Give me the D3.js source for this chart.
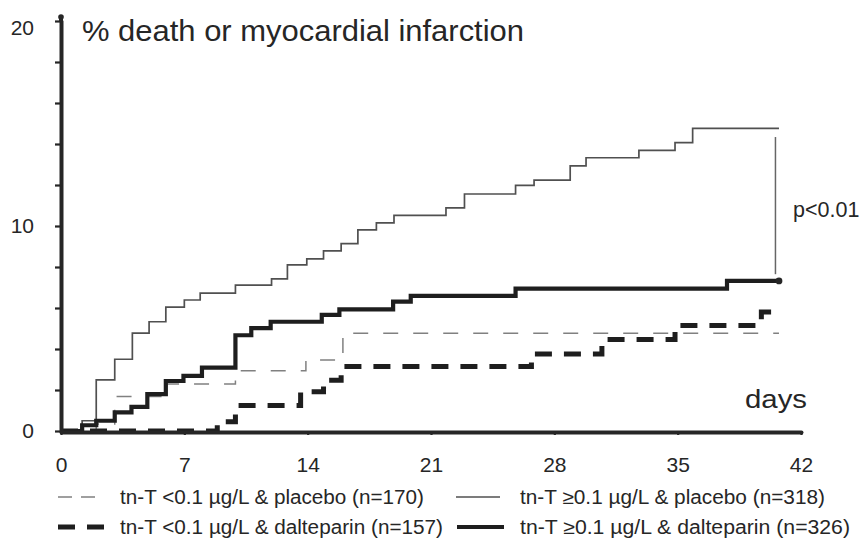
<!DOCTYPE html>
<html>
<head>
<meta charset="utf-8">
<script src="https://cdn.jsdelivr.net/npm/d3@7"></script>
<style>
  html, body { margin: 0; padding: 0; background: #fff; }
  svg { display: block; font-family: "Liberation Sans", Arial, Helvetica, sans-serif; }
</style>
</head>
<body>
<svg id="chart" width="863" height="542"></svg>
<script>
// Cumulative % death or myocardial infarction, step points [day, percent]
const lowTnPlacebo = [[0, 0], [2.0, 0.34], [3.05, 1.68], [6.0, 2.29], [9.9, 2.94], [13.9, 3.46], [16.0, 4.77], [40.75, 4.77]];
const highTnPlacebo = [[0, 0], [1.2, 0.5], [2.0, 2.49], [3.05, 3.5], [4.05, 4.77], [5.0, 5.33], [5.95, 6.04], [7.0, 6.39], [7.9, 6.73],
  [9.9, 7.12], [11.95, 7.42], [12.85, 8.1], [13.95, 8.4], [14.9, 8.79], [15.9, 9.14], [16.85, 9.81], [17.9, 10.15], [18.9, 10.52],
  [21.85, 10.88], [22.9, 11.56], [25.8, 11.98], [26.85, 12.24], [28.9, 12.93], [29.8, 13.33], [32.8, 13.69], [34.85, 14.07],
  [35.85, 14.76], [40.75, 14.76]];
const lowTnDalteparin = [[0, 0], [8.87, 0.45], [9.9, 1.24], [13.6, 1.92], [14.9, 2.48], [15.9, 3.15], [26.7, 3.76], [30.7, 4.46],
  [34.85, 5.15], [39.75, 5.8], [40.75, 5.8]];
const highTnDalteparin = [[0, 0], [1.2, 0.28], [2.0, 0.5], [3.05, 0.91], [4.0, 1.18], [4.9, 1.8], [5.95, 2.44], [6.95, 2.69],
  [8.0, 3.09], [9.9, 4.67], [10.8, 5.02], [11.9, 5.33], [14.8, 5.66], [15.8, 5.93], [18.85, 6.31], [19.85, 6.59], [25.8, 6.95],
  [37.8, 7.32], [40.75, 7.32]];

const xTicks = [0, 7, 14, 21, 28, 35, 42];
const yTicks = [0, 2, 4, 6, 8, 10, 12, 14, 16, 18, 20];
const yLabelled = [0, 10, 20];
const legendLabels = [
  "tn-T <0.1 \u00b5g/L & placebo (n=170)",
  "tn-T \u22650.1 \u00b5g/L & placebo (n=318)",
  "tn-T <0.1 \u00b5g/L & dalteparin (n=157)",
  "tn-T \u22650.1 \u00b5g/L & dalteparin (n=326)"
];

const svg = d3.select("#chart");
const ink = "#262626";

const x = d3.scaleLinear().domain([0, 42]).range([61, 801]);
const y = d3.scaleLinear().domain([0, 20]).range([431, 21]);

// Line styles for the four groups (order matches legendLabels)
const styles = [
  { data: lowTnPlacebo, width: 1.5, color: "#808080", dash: "15 15" },
  { data: highTnPlacebo, width: 1.7, color: "#505050", dash: null },
  { data: lowTnDalteparin, width: 5, color: "#1e1e1e", dash: "17 12" },
  { data: highTnDalteparin, width: 4.2, color: "#1e1e1e", dash: null }
];

const line = d3.line().x(d => x(d[0])).y(d => y(d[1])).curve(d3.curveStepAfter);

styles.forEach(s => {
  svg.append("path")
    .datum(s.data)
    .attr("d", line)
    .attr("fill", "none")
    .attr("stroke", s.color)
    .attr("stroke-width", s.width)
    .attr("stroke-dasharray", s.dash)
    .attr("stroke-linejoin", "miter");
});

// End marker of the dalteparin high-troponin curve
const lastHD = highTnDalteparin[highTnDalteparin.length - 1];
svg.append("circle").attr("cx", x(lastHD[0])).attr("cy", y(lastHD[1])).attr("r", 3.4).attr("fill", ink);

// Bracket comparing the two high-troponin groups
const lastHP = highTnPlacebo[highTnPlacebo.length - 1];
svg.append("line")
  .attr("x1", x(40.55)).attr("x2", x(40.55))
  .attr("y1", y(lastHP[1] - 0.42)).attr("y2", y(lastHD[1] + 0.33))
  .attr("stroke", "#666").attr("stroke-width", 1.5);
svg.append("text")
  .attr("x", 793).attr("y", 217)
  .attr("font-size", 21.5).attr("fill", ink)
  .text("p<0.01");

// Axes
const yAxis = svg.append("g")
  .attr("transform", `translate(${x(0)},0)`)
  .call(d3.axisLeft(y).tickValues(yTicks).tickSize(6).tickSizeOuter(0).tickPadding(21)
    .tickFormat(d => yLabelled.includes(d) ? d : ""));
const xAxis = svg.append("g")
  .attr("transform", `translate(0,${y(0) + 1})`)
  .call(d3.axisBottom(x).tickValues(xTicks).tickSize(3).tickSizeOuter(0).tickPadding(22));

[yAxis, xAxis].forEach(g => {
  g.select(".domain").attr("stroke", ink).attr("stroke-width", 4).attr("stroke-linecap", "round");
  g.selectAll(".tick line").attr("stroke", ink).attr("stroke-width", 2.2);
  g.selectAll(".tick text").attr("fill", ink).attr("font-size", 21)
    .attr("font-family", "'Liberation Sans', Arial, sans-serif");
});
yAxis.selectAll(".tick text").filter(d => d === 20).attr("dy", "0.62em");
// Axis runs slightly past the top tick, ending in a small knob
svg.append("line")
  .attr("x1", x(0)).attr("x2", x(0)).attr("y1", y(20)).attr("y2", y(20) - 4)
  .attr("stroke", ink).attr("stroke-width", 4);
svg.append("circle").attr("cx", x(0)).attr("cy", y(20) - 4).attr("r", 2.8).attr("fill", ink);

// Titles
svg.append("text")
  .attr("x", 82).attr("y", 41)
  .attr("font-size", 29).attr("fill", ink)
  .attr("textLength", 442).attr("lengthAdjust", "spacingAndGlyphs")
  .text("% death or myocardial infarction");
svg.append("text")
  .attr("x", 745).attr("y", 408)
  .attr("font-size", 25).attr("fill", ink)
  .attr("textLength", 62).attr("lengthAdjust", "spacingAndGlyphs")
  .text("days");

// Legend: two columns, two rows
const legendPos = [
  { sx: 58, ex: 104, tx: 120, ty: 497, w: 304 },
  { sx: 456, ex: 500, tx: 520, ty: 497, w: 305 },
  { sx: 58, ex: 104, tx: 120, ty: 527, w: 323 },
  { sx: 457, ex: 504, tx: 520, ty: 527, w: 330 }
];
legendLabels.forEach((label, i) => {
  const p = legendPos[i], s = styles[i];
  svg.append("line")
    .attr("x1", p.sx).attr("x2", p.ex).attr("y1", p.ty).attr("y2", p.ty)
    .attr("stroke", s.color).attr("stroke-width", s.width)
    .attr("stroke-dasharray", s.dash ? (i === 0 ? "14 9" : "17 12") : null);
  svg.append("text")
    .attr("x", p.tx).attr("y", p.ty + 7)
    .attr("font-size", 19.5).attr("fill", ink)
    .attr("textLength", p.w).attr("lengthAdjust", "spacingAndGlyphs")
    .text(label);
});
</script>
</body>
</html>
